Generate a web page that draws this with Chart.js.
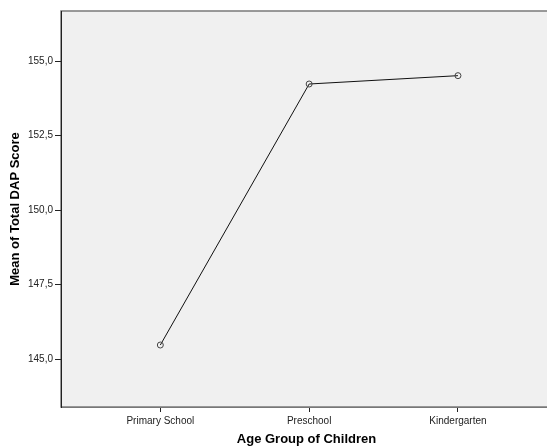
<!DOCTYPE html>
<html>
<head>
<meta charset="utf-8">
<script src="https://cdn.jsdelivr.net/npm/chart.js@4"></script>
<style>
  html, body { margin: 0; padding: 0; background: #fff; overflow: hidden; }
</style>
</head>
<body>
<canvas id="meanChart" width="557" height="447"></canvas>
<script>
const ctx = document.getElementById('meanChart').getContext('2d');

// Data
const categories = ['Primary School', 'Preschool', 'Kindergarten'];
const meanScores = [145.47, 154.23, 154.51];
const yTicks = [145, 147.5, 150, 152.5, 155];

// grey plot background + frame (SPSS style)
const plotBackground = {
  id: 'plotBackground',
  beforeDraw(chart) {
    const a = chart.chartArea;
    const c = chart.ctx;
    c.save();
    c.fillStyle = '#f0f0f0';
    c.fillRect(a.left, a.top, a.right - a.left, a.bottom - a.top);
    c.strokeStyle = '#7a7a7a';
    c.lineWidth = 1.5;
    c.strokeRect(a.left, a.top, a.right - a.left, a.bottom - a.top);
    c.restore();
  }
};

let chart = new Chart(ctx, {
  type: 'line',
  data: {
    datasets: [{
      label: 'Mean',
      data: meanScores.map((v, i) => ({ x: i, y: v })),
      borderColor: '#111',
      borderWidth: 1,
      tension: 0,
      fill: false,
      pointRadius: 3,
      pointBorderWidth: 1,
      pointBorderColor: '#444',
      pointBackgroundColor: 'rgba(0,0,0,0)'
    }]
  },
  options: {
    responsive: false,
    animation: false,
    layout: { padding: { top: 11, left: 0, right: 0, bottom: 0 } },
    plugins: { legend: { display: false }, tooltip: { enabled: false } },
    scales: {
      x: {
        type: 'linear',
        min: -0.6676,
        max: 2.632,
        afterBuildTicks: (s) => { s.ticks = categories.map((c, i) => ({ value: i })); },
        afterFit: (s) => { s.height = 40; },
        ticks: {
          callback: (v) => categories[v],
          color: '#222',
          font: { family: 'Liberation Sans', size: 10 },
          padding: 3,
          maxRotation: 0
        },
        grid: { drawOnChartArea: false, drawTicks: true, tickLength: 5, color: '#222' },
        border: { display: true, color: '#777', width: 1 },
        title: {
          display: true,
          text: 'Age Group of Children',
          color: '#000',
          font: { family: 'Liberation Sans', size: 13, weight: 'bold' },
          padding: { top: 0, bottom: 0 }
        }
      },
      y: {
        min: 143.39,
        max: 156.68,
        afterBuildTicks: (s) => { s.ticks = yTicks.map(v => ({ value: v })); },
        afterFit: (s) => { s.width = 61; },
        ticks: {
          callback: (v) => v.toFixed(1).replace('.', ','),
          color: '#222',
          font: { family: 'Liberation Sans', size: 10 },
          padding: 2
        },
        grid: { drawOnChartArea: false, drawTicks: true, tickLength: 6, color: '#222' },
        border: { display: true, color: '#222', width: 1 },
        title: {
          display: true,
          text: 'Mean of Total DAP Score',
          color: '#000',
          font: { family: 'Liberation Sans', size: 13, weight: 'bold' },
          padding: { top: 8, bottom: 0 }
        }
      }
    }
  },
  plugins: [plotBackground]
});
</script>
</body>
</html>
